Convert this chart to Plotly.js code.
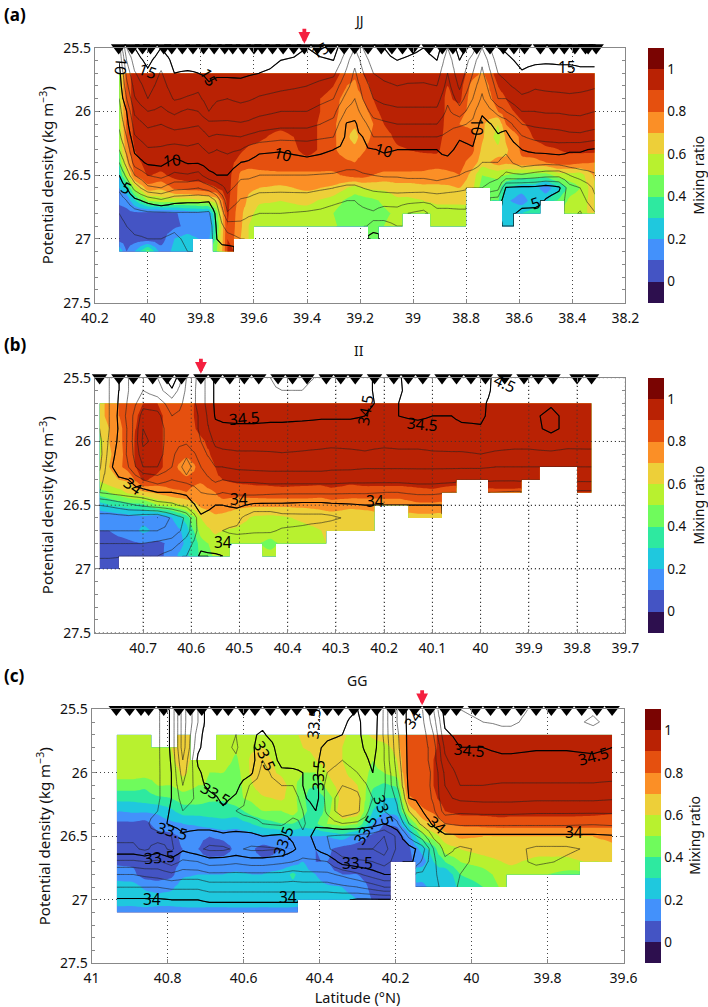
<!DOCTYPE html>
<html><head><meta charset="utf-8">
<script src="https://cdn.plot.ly/plotly-3.0.1.min.js"></script>
<style>html,body{margin:0;padding:0;background:#fff}</style></head>
<body><div id="chart" style="width:708px;height:1007px"></div>
<script>
const N = null;
const bandColors = ['#2d0f4e','#4454c4','#4391fb','#1fc8de','#2ee9a0','#6ffb5c','#b8f12f','#edcf39','#fb8f26','#e5500f','#b92204','#7a0402'];
const mixSigma = [25.7,25.8,25.9,26,26.1,26.2,26.3,26.4,26.5,26.6,26.7,26.8,26.9,27,27.1];
const isoSigma = [25.5,25.6].concat(mixSigma);
const ticksY = [25.5,26,26.5,27,27.5];

/* ---------- panel a : JJ ---------- */
const latA = [40.108,40.08,40.05,40,39.95,39.9,39.85,39.81,39.77,39.74,39.7,39.65,39.62,39.58,39.5,39.4,39.3,39.25,39.22,39.19,39.15,39.11,39.06,39.02,38.96,38.91,38.87,38.825,38.775,38.74,38.68,38.65,38.59,38.54,38.5,38.45,38.41,38.37,38.315];
const mixA = [
[.55,.55,.55,.55,.55,.52,.5,.42,.3,.2,.12,.06,.05,.05,.3],
[.85,.85,.85,.82,.82,.8,.75,.68,.55,.28,.13,.08,.06,.05,.1],
[.94,.94,.94,.94,.93,.93,.9,.86,.8,.55,.28,.08,.06,.05,.2],
[.95,.95,.95,.95,.95,.95,.95,.94,.91,.75,.5,.06,.05,.04,.45],
[.95,.95,.95,.95,.95,.95,.95,.95,.88,.72,.55,.06,.05,.05,.15],
[.95,.95,.95,.95,.95,.95,.95,.95,.93,.82,.55,.09,.08,.2,.22],
[.95,.95,.95,.95,.95,.95,.95,.95,.95,.85,.55,.13,.12,.25,.25],
[.95,.95,.95,.95,.95,.95,.95,.95,.95,.85,.58,.14,.1,.2],
[.95,.95,.95,.95,.95,.95,.95,.95,.95,.88,.6,.15,.12,.18],
[.95,.95,.95,.95,.95,.95,.95,.95,.95,.9,.65,.45,.4,.45,.5],
[.95,.95,.95,.95,.95,.95,.95,.95,.95,.95,.93,.92,.9,.9,.9],
[.95,.95,.95,.95,.95,.95,.92,.85,.78,.75,.75,.72,.72,.7],
[.95,.95,.95,.95,.95,.95,.88,.85,.75,.72,.68,.65,.6,.6],
[.95,.95,.95,.95,.95,.93,.85,.83,.78,.7,.62,.55,.55],
[.95,.95,.95,.95,.95,.85,.8,.85,.78,.68,.6,.55,.52],
[.95,.95,.95,.95,.95,.95,.95,.85,.78,.72,.63,.55,.53],
[.95,.9,.85,.85,.82,.82,.82,.85,.78,.68,.55,.5,.52],
[.85,.8,.75,.72,.72,.72,.73,.82,.82,.6,.48,.45,.45],
[.82,.78,.75,.73,.72,.66,.73,.8,.85,.55,.45,.42,.42],
[.9,.85,.8,.75,.75,.75,.78,.85,.85,.6,.45,.45,.48],
[.95,.93,.9,.85,.8,.82,.85,.85,.8,.62,.48,.48,.42,.4],
[.95,.95,.95,.95,.9,.85,.85,.85,.78,.62,.52,.48,.5],
[.95,.95,.95,.95,.95,.93,.88,.85,.78,.65,.58,.52,.52],
[.95,.95,.95,.95,.95,.95,.9,.85,.78,.65,.58,.55],
[.95,.95,.95,.95,.95,.95,.92,.84,.78,.67,.6,.52],
[.95,.95,.95,.95,.95,.95,.92,.85,.75,.68,.62,.55,.53],
[.9,.9,.88,.88,.87,.85,.85,.85,.77,.68,.62,.55,.53],
[.95,.95,.93,.85,.8,.85,.85,.84,.8,.7,.62,.55,.53],
[.85,.75,.72,.75,.78,.82,.82,.75,.65,.62],
[.78,.72,.72,.72,.72,.72,.68,.65,.5,.45],
[.95,.9,.85,.8,.6,.55,.63,.75,.52,.45,.42],
[.95,.95,.9,.85,.8,.72,.68,.72,.5,.3,.22,.25,.3],
[.95,.95,.95,.95,.88,.82,.82,.78,.45,.24,.15,.3],
[.95,.95,.95,.95,.95,.92,.84,.78,.45,.24,.26,.35],
[.95,.95,.95,.95,.95,.95,.88,.8,.45,.14,.28],
[.95,.95,.95,.95,.95,.95,.9,.85,.55,.28,.42],
[.95,.95,.95,.95,.95,.95,.92,.85,.55,.45,.52,.55],
[.95,.95,.95,.95,.95,.95,.93,.82,.55,.5,.55,.58],
[.95,.95,.95,.95,.95,.95,.93,.8,.72,.68,.65,.62]];
const tempA = [
[10.5,10.1,9.6,9.3,9,8.6,8.2,7.7,7,6,5,4.2,3.5,3,2.7,2.5,2.4],
[14,13,12.3,11.7,11,10,9.6,9,8.3,7.5,6.3,5,4,3.3,3,2.7,2.5],
[15,14.5,13.9,13.4,12.9,12.2,11.5,10.9,10.2,9.5,8,6.3,4.7,3.6,3.2,2.9,2.7],
[16,15.3,14.8,14.4,14,13,12.2,11.5,10.9,10.2,9,7.8,5.3,3.8,3.2,3,2.9],
[15,14.4,13.9,13.6,13.3,12.8,12,11.3,10.9,10.3,9.3,8,5.8,3.8,3.2,3,2.9],
[15.7,15.3,15,14.5,14.1,13.2,12.4,11.5,10.6,9.7,8.8,7.3,5.3,3.9,3.1,2.9,2.8],
[16,15.4,14.9,14.4,13.9,12.8,12.2,11.5,10.8,10.1,8.9,7.2,5.2,3.9,3.3,3.1,3],
[16,15.3,15,14.2,13.8,13,12.1,11.3,10.7,10.1,8.6,7,5.2,3.9,3.3,3.1],
[16,15.7,15.2,14.9,14.4,14,12.7,12,11.2,10.5,9.7,7.5,5.1,3.8,3.2,3.1],
[16,15.8,15.1,14.8,14.1,13.6,12.8,11.8,11,10.5,10,8.2,6.2,5.4,5.2,5,4.9],
[16,15.8,15.2,14.6,14,13.5,12.8,11.9,11.2,10.6,10,9.3,8.6,7.9,6.5,5.5,4.5],
[16,15.8,15.2,14.7,14.2,13.6,12.9,12,11,10,9.2,8.6,7.9,7.3,6.8,6],
[16,15.7,15.1,14.6,14.1,13.5,12.8,11.8,10.6,9.9,9.2,8.5,7.8,7.1,6.7,6.3],
[16,15.6,15,14.4,13.9,13.3,12.5,11.6,10.2,9.6,9,8.3,7.5,7,6.6],
[15.6,15,14.7,14.2,13.7,13,12.3,11.3,10.1,9.5,9,8.2,7.6,7,6.7],
[15,14.8,14.5,14,13.6,13,12.3,11.3,10.4,9.7,9,8.3,7.5,6.9,6.6],
[15.5,15,14.2,13.5,13,12.3,11.7,11,10,9.6,8.9,8,7.1,6.8,6.5],
[14,13.3,12.8,12.3,11.6,10.8,9.9,9.8,9.7,9.4,8.7,7.8,7,6.7,6.5],
[13,12.3,11.8,11.5,11,10.5,9.8,9.8,9.7,9.4,8.7,7.8,7,6.7,6.5],
[14,13.4,12.9,12.3,12,11.4,10.6,10,9.9,9.5,8.9,8,7.2,6.8,6.5],
[15,14.5,14,13.5,13,12.4,11.6,11,9.95,9.7,9,8.2,7.4,6.9,5.3,4.7],
[15,14.7,14.3,13.8,13.3,12.6,11.8,11,10.1,9.7,9.1,8.3,7.4,6.5,5.6],
[15.6,15,14.5,14,13.4,12.8,12,11,10,9.7,9.1,8.4,7.4,6.6,6],
[15.4,14.8,14.4,13.9,13.4,12.8,12,11,10,9.7,9.2,8.4,7.3,6],
[15,14.6,14.3,13.9,13.4,12.8,12,11,10,9.7,9.2,8.4,7.2,5.6],
[15.5,15,14.5,14,13.4,12.8,12,11,10,9.8,9.3,8.6,7.3,6.8,6.5],
[14,13.4,13,12.6,12.2,11.8,11.3,10.8,10.3,9.7,9.2,8.4,7.3,6.8,6.5],
[15.5,15,14.7,14.2,13.5,12.6,11.2,10.1,9.7,9.4,9,8.2,7.4,6.8,6.5],
[14.5,13.5,13,12.5,12,11.3,10.8,10.3,9.9,9.4,8.7,8],
[13,12.2,11.8,11.3,10.8,10.2,9.6,9.3,9.1,9,8.6,8],
[15,14.5,14,13.5,13,11.3,10.3,9.9,9.5,9,8.3,7.3,5.5],
[15.2,14.7,14.3,13.8,13,12,10.3,9.7,9.2,8.6,7.8,4.9,4.4,4.4,4.9],
[15.7,15.3,14.9,14.4,13.8,13,12,10.9,10,9.6,7.9,4.7,4.4,5.4],
[16,15.2,14.6,14.1,13.7,13,12.2,11.3,10.2,9.4,7.6,4.7,4.4,5.5],
[16,15.1,14.7,14.2,13.7,13.1,12.3,11.4,10.3,9.3,7.4,4.4,5.1],
[16,15.1,14.8,14.3,13.7,13.1,12.4,11.5,10.4,9.4,7.3,4.8,5.6],
[16,15.1,14.8,14.3,13.8,13.2,12.5,11.7,10.1,9.6,8,6.6,6.4,6.3],
[16,15.1,14.9,14.3,13.7,13.2,12.6,11.7,10.1,9.6,8.5,7,6.4,5.9],
[15.9,15.1,14.9,14.1,13.6,13,12.4,11.4,9.9,9.5,8.9,8.2,7.8,6.9]];
const stationsA = [40.11,40.06,40.02,39.99,39.94,39.91,39.87,39.83,39.79,39.75,39.71,39.68,39.64,39.6,39.57,39.53,39.49,39.45,39.41,39.36,39.31,39.26,39.22,39.17,39.12,39.08,39.04,39,38.94,38.89,38.85,38.81,38.76,38.71,38.66,38.62,38.58,38.52,38.47,38.43,38.39,38.35,38.34,38.31];
const textA = ['10','15','15','15','15','10','10','10','10','5','5'];
const labLatA = [40.1,40,39.77,39.35,38.42,39.91,39.49,39.11,38.76,40.08,38.54];
const labSigA = [25.65,25.68,25.73,25.52,25.65,26.38,26.33,26.3,26.12,26.6,26.72];
const labAngA = [95,20,60,-30,0,-5,15,15,90,30,-20];

/* ---------- panel b : II ---------- */
const latB = [40.79,40.77,40.73,40.7,40.67,40.64,40.61,40.58,40.55,40.535,40.505,40.47,40.436,40.412,40.37,40.33,40.31,40.27,40.24,40.2,40.17,40.13,40.1,40.06,40.04,40,39.97,39.93,39.9,39.854,39.82,39.78,39.77];
const mixB = [
[.65,.65,.63,.55,.58,.62,.62,.45,.25,.13,.1,.06,.05,.05],
[.75,.75,.7,.7,.68,.7,.68,.5,.3,.12,.1,.06,.05,.05],
[.85,.85,.85,.85,.85,.85,.72,.62,.35,.15,.15,.08,.05],
[.9,.93,.95,.97,.97,.95,.92,.68,.38,.17,.22,.1,.06],
[.9,.93,.93,.93,.93,.93,.87,.72,.5,.12,.18,.08,.06],
[.85,.85,.85,.85,.85,.85,.85,.78,.55,.2,.12,.12,.15],
[.85,.85,.85,.85,.83,.72,.83,.8,.62,.35,.25,.22,.28],
[.95,.95,.93,.88,.85,.85,.82,.75,.72,.6,.55,.45,.42],
[.95,.95,.95,.95,.93,.9,.88,.8,.75,.68,.62,.55,.52],
[.95,.95,.95,.95,.95,.95,.9,.85,.75,.67,.6,.53,.52],
[.95,.95,.95,.95,.95,.95,.92,.85,.72,.65,.58,.52],
[.95,.95,.95,.95,.95,.95,.93,.86,.72,.58,.55,.52],
[.95,.95,.95,.95,.95,.95,.93,.87,.72,.57,.55,.47,.53],
[.95,.95,.95,.95,.95,.95,.94,.87,.72,.58,.54,.52],
[.95,.95,.95,.95,.95,.95,.93,.87,.72,.62,.56,.53],
[.95,.95,.95,.95,.95,.95,.94,.85,.73,.65,.6,.6],
[.95,.95,.95,.95,.95,.95,.95,.87,.75,.65,.62],
[.95,.95,.95,.95,.95,.95,.92,.87,.72,.65,.65],
[.95,.95,.95,.95,.95,.95,.93,.87,.72,.67,.65],
[.95,.95,.95,.95,.95,.95,.95,.85,.75],
[.95,.95,.95,.95,.95,.95,.95,.85,.75],
[.95,.95,.95,.95,.95,.95,.95,.87,.78,.66],
[.95,.95,.95,.95,.95,.95,.95,.88,.78,.66],
[.95,.95,.95,.95,.95,.95,.95,.85],
[.95,.95,.95,.95,.95,.95,.95],
[.95,.95,.95,.95,.95,.95,.95],
[.95,.95,.95,.95,.95,.95,.95,.88],
[.95,.95,.95,.95,.95,.95,.95,.88],
[.95,.95,.95,.95,.95,.95,.95],
[.95,.95,.95,.95,.95,.95],
[.95,.95,.95,.95,.95,.95],
[.95,.95,.95,.95,.95,.95,.95,.92],
[.95,.95,.95,.95,.95,.95,.95,.92]];
const salB = [
[33.85,33.85,33.85,33.83,33.8,33.77,33.75,33.78,33.85,33.9,33.7,33.55,33.6,33.7,33.78,33.9],
[33.9,33.9,33.9,33.9,33.9,33.92,33.95,33.98,33.98,33.92,33.72,33.54,33.6,33.7,33.78,33.9],
[34.1,34.1,34.12,34.14,34.12,34.12,34.12,34.1,34,33.95,33.78,33.56,33.6,33.7,33.8],
[34.15,34.2,34.27,34.34,34.4,34.42,34.37,34.3,34.1,33.96,33.82,33.52,33.6,33.7,33.8],
[34.1,34.15,34.25,34.33,34.37,34.37,34.35,34.3,34.15,34,33.86,33.5,33.6,33.72,33.8],
[33.9,34.02,34.15,34.2,34.22,34.22,34.22,34.2,34.1,34,33.88,33.62,33.63,33.75,33.85],
[34.2,34.22,34.22,34.22,34.22,34.22,34.12,34.05,34.13,34.02,33.93,33.72,33.75,33.85,33.9],
[34.35,34.35,34.35,34.32,34.32,34.3,34.25,34.2,34.15,34.1,34.05,33.98,33.96,33.97,34.02],
[34.52,34.52,34.52,34.51,34.47,34.42,34.37,34.3,34.22,34.12,34,33.95,33.92,33.92,34.02],
[34.6,34.6,34.58,34.52,34.48,34.43,34.38,34.3,34.2,34.1,34,33.93,33.9,33.93,34],
[34.6,34.6,34.58,34.53,34.48,34.43,34.39,34.32,34.22,34.12,34.02,33.93,33.88,33.95],
[34.6,34.59,34.58,34.53,34.48,34.43,34.39,34.33,34.22,34.13,33.98,33.82,33.89,33.95],
[34.6,34.59,34.57,34.52,34.48,34.44,34.39,34.33,34.24,34.12,33.98,33.82,33.89,33.96,34],
[34.63,34.6,34.57,34.52,34.48,34.44,34.395,34.33,34.24,34.115,33.98,33.86,33.91,33.97],
[34.63,34.6,34.57,34.52,34.47,34.43,34.39,34.33,34.24,34.115,33.97,33.87,33.92,33.97],
[34.58,34.56,34.55,34.51,34.47,34.43,34.38,34.33,34.24,34.115,33.97,33.87,33.95,33.98],
[34.58,34.56,34.55,34.51,34.47,34.43,34.37,34.32,34.24,34.115,33.98,33.88,33.97],
[34.56,34.55,34.54,34.51,34.47,34.43,34.38,34.32,34.23,34.11,33.99,33.92,33.97],
[34.52,34.52,34.52,34.5,34.47,34.43,34.39,34.31,34.23,34.11,34,33.96,33.98],
[34.47,34.47,34.48,34.49,34.48,34.43,34.37,34.31,34.23,34.1,34],
[34.49,34.49,34.5,34.5,34.48,34.43,34.38,34.31,34.23,34.1,34],
[34.56,34.54,34.53,34.51,34.48,34.43,34.38,34.31,34.24,34.12,34,33.96],
[34.56,34.54,34.53,34.5,34.48,34.43,34.39,34.31,34.24,34.12,34,33.96],
[34.58,34.56,34.54,34.5,34.47,34.44,34.39,34.31,34.23,34.1],
[34.58,34.56,34.55,34.52,34.48,34.44,34.39,34.31,34.22],
[34.55,34.54,34.52,34.52,34.49,34.44,34.4,34.31,34.22],
[34.48,34.48,34.47,34.46,34.45,34.43,34.39,34.3,34.21,34.1],
[34.47,34.47,34.47,34.47,34.47,34.43,34.38,34.3,34.21,34.09],
[34.47,34.48,34.48,34.48,34.47,34.43,34.38,34.3,34.22],
[34.47,34.48,34.49,34.52,34.52,34.46,34.38,34.3],
[34.46,34.47,34.48,34.48,34.48,34.44,34.37,34.3],
[34.46,34.47,34.48,34.48,34.47,34.43,34.38,34.3,34.22,34.08],
[34.46,34.47,34.48,34.48,34.47,34.43,34.38,34.3,34.22,34.08]];
const stationsB = [40.79,40.75,40.72,40.68,40.65,40.62,40.58,40.55,40.52,40.49,40.46,40.42,40.39,40.36,40.32,40.29,40.26,40.22,40.18,40.15,40.12,40.08,40.05,40.02,39.99,39.95,39.91,39.88,39.85,39.8,39.77];
const textB = ['34.5','34.5','34.5','4.5','34','34','34','34'];
const labLatB = [40.49,40.24,40.12,39.95,40.72,40.5,40.22,40.535];
const labSigB = [25.82,25.75,25.86,25.54,26.35,26.45,26.47,26.79];
const labAngB = [-5,-80,5,25,35,0,0,0];

/* ---------- panel c : GG ---------- */
const latC = [40.934,40.89,40.86,40.826,40.79,40.76,40.72,40.69,40.654,40.62,40.58,40.55,40.5,40.47,40.444,40.41,40.38,40.34,40.3,40.26,40.23,40.196,40.165,40.129,40.1,40.07,40.03,39.97,39.92,39.896,39.83,39.75,39.68,39.63];
const mixC = [
[.55,.55,.55,.55,.45,.33,.2,.08,.06,.05,.08,.15,.25,.25,.15],
[.55,.55,.55,.55,.45,.33,.22,.08,.05,.05,.08,.12,.25,.25,.15],
[.55,.55,.55,.55,.42,.35,.22,.06,.05,.05,.05,.05,.18,.27,.15],
[N,.55,.55,.55,.5,.38,.22,.15,.06,.05,.05,.05,.15,.25,.15],
[N,.6,.58,.55,.5,.4,.28,.18,.07,.05,.05,.07,.18,.25,.15],
[.65,.65,.65,.62,.55,.45,.35,.2,.12,.1,.12,.18,.25,.27,.15],
[N,N,.55,.55,.5,.45,.35,.22,.12,.1,.13,.2,.26,.28,.15],
[N,N,.55,.5,.5,.42,.35,.25,.1,.05,.13,.2,.25,.27,.15],
[.55,.55,.55,.5,.48,.42,.33,.28,.12,.06,.13,.2,.25,.27,.15],
[.55,.52,.48,.45,.45,.48,.35,.25,.13,.12,.13,.22,.26,.28,.15],
[.58,.58,.62,.62,.58,.52,.45,.3,.15,.12,.12,.2,.25,.28,.15],
[.6,.6,.65,.65,.68,.58,.5,.35,.18,.06,.12,.2,.25,.27,.15],
[.55,.55,.55,.58,.65,.62,.5,.4,.2,.1,.12,.25,.25,.28,.15],
[.55,.55,.55,.55,.55,.55,.55,.4,.2,.1,.15,.32,.27,.27,.15],
[.65,.6,.55,.5,.42,.42,.45,.35,.2,.15,.2,.25,.27,.27],
[.65,.62,.6,.5,.4,.32,.3,.38,.2,.1,.1,.2,.25,.25],
[.68,.68,.65,.6,.55,.42,.45,.5,.2,.12,.1,.12,.22,.25],
[.62,.6,.6,.62,.65,.65,.68,.55,.25,.06,.05,.1,.2,.25],
[.55,.55,.55,.55,.6,.66,.66,.5,.15,.05,.05,.1,.14,.2],
[.62,.55,.5,.48,.42,.35,.3,.2,.08,.05,.05,.07,.08,.09],
[.68,.55,.55,.5,.38,.3,.22,.1,.05,.05,.06,.06,.05,.05],
[.68,.65,.6,.55,.42,.3,.25,.12,.05,.05,.05],
[.85,.85,.85,.85,.85,.78,.62,.35,.15,.08,.08],
[.85,.85,.85,.85,.85,.85,.78,.65,.45,.25,.15,.28,.15],
[.88,.88,.9,.9,.9,.88,.82,.72,.55,.35,.3,.28,.28],
[.95,.95,.95,.95,.95,.94,.9,.8,.65,.55,.4,.2,.2],
[.95,.95,.95,.95,.95,.95,.94,.82,.72,.6,.5,.4,.33],
[.95,.95,.95,.95,.95,.95,.94,.84,.7,.65,.55,.45,.4],
[.95,.95,.95,.95,.95,.95,.95,.85,.7,.67,.6,.55,.52],
[.95,.95,.95,.95,.95,.95,.94,.85,.7,.67,.62,.55],
[.95,.95,.95,.95,.95,.95,.94,.85,.7,.65,.57,.52],
[.95,.95,.95,.95,.95,.95,.94,.85,.7,.65,.57,.47],
[.95,.95,.95,.95,.95,.95,.93,.85,.7,.66,.62],
[.95,.95,.95,.95,.95,.95,.92,.84,.72,.68,.66]];
const salC = [
[33.32,33.32,33.32,33.32,33.32,33.33,33.33,33.34,33.35,33.36,33.38,33.42,33.62,33.8,33.9,34.01,34.08],
[33.33,33.33,33.33,33.33,33.33,33.33,33.33,33.34,33.35,33.36,33.38,33.42,33.62,33.8,33.9,34.01,34.08],
[33.34,33.34,33.34,33.34,33.34,33.34,33.34,33.35,33.36,33.37,33.39,33.38,33.6,33.78,33.9,34.01,34.08],
[33.38,33.38,33.38,33.38,33.38,33.38,33.38,33.38,33.4,33.46,33.36,33.44,33.62,33.76,33.9,34.01,34.08],
[33.52,33.52,33.52,33.52,33.51,33.5,33.5,33.5,33.52,33.52,33.4,33.38,33.55,33.72,33.88,34,34.08],
[33.85,33.85,33.85,33.85,33.8,33.75,33.7,33.65,33.6,33.55,33.48,33.48,33.62,33.75,33.88,34,34.08],
[33.6,33.6,33.55,33.52,33.48,33.52,33.55,33.58,33.55,33.55,33.45,33.42,33.6,33.75,33.88,34,34.08],
[33.42,33.42,33.42,33.44,33.44,33.45,33.46,33.55,33.55,33.55,33.45,33.38,33.55,33.72,33.85,33.98,34.08],
[33.42,33.42,33.42,33.42,33.42,33.43,33.45,33.47,33.52,33.56,33.48,33.38,33.56,33.72,33.85,33.98,34.08],
[33.42,33.42,33.4,33.39,33.41,33.42,33.46,33.52,33.6,33.58,33.45,33.42,33.58,33.72,33.85,33.98,34.08],
[33.48,33.49,33.49,33.47,33.45,33.48,33.62,33.65,33.62,33.58,33.47,33.38,33.55,33.72,33.85,33.98,34.08],
[33.47,33.48,33.51,33.58,33.6,33.65,33.65,33.65,33.62,33.6,33.5,33.38,33.55,33.72,33.85,33.98,34.08],
[33.42,33.44,33.45,33.45,33.47,33.52,33.6,33.68,33.68,33.62,33.48,33.4,33.58,33.72,33.85,33.98,34.08],
[33.42,33.42,33.42,33.44,33.46,33.52,33.6,33.7,33.65,33.56,33.52,33.48,33.6,33.74,33.85,33.98,34.08],
[33.42,33.42,33.42,33.44,33.47,33.5,33.5,33.52,33.6,33.62,33.58,33.55,33.62,33.72,33.85,33.98],
[33.45,33.45,33.45,33.48,33.48,33.48,33.45,33.45,33.5,33.52,33.45,33.5,33.62,33.72,33.85,33.98],
[33.47,33.48,33.48,33.52,33.55,33.6,33.65,33.65,33.62,33.55,33.4,33.42,33.6,33.72,33.85,33.98],
[33.48,33.49,33.5,33.54,33.6,33.65,33.7,33.75,33.78,33.6,33.38,33.32,33.45,33.68,33.82,33.99],
[33.5,33.52,33.52,33.53,33.55,33.6,33.68,33.72,33.72,33.58,33.38,33.3,33.42,33.62,33.8,34.01],
[33.4,33.42,33.43,33.45,33.48,33.5,33.55,33.6,33.55,33.55,33.35,33.3,33.4,33.55,33.75,34.01],
[33.62,33.62,33.62,33.6,33.6,33.58,33.58,33.6,33.6,33.5,33.3,33.25,33.35,33.5,33.7,34.01],
[33.9,33.9,33.88,33.87,33.85,33.82,33.8,33.72,33.68,33.58,33.42,33.42,33.45],
[34.03,34.03,34.03,34.03,34.03,34.03,34.02,34,33.9,33.8,33.62,33.45,33.45],
[34.1,34.08,34.05,34.05,34.05,34.05,34.06,34.02,34,33.93,33.75,33.55,33.62,33.72,33.8],
[34.3,34.25,34.2,34.15,34.15,34.12,34.12,34.12,34.08,34.02,33.92,33.8,33.78,33.78,33.78],
[34.55,34.52,34.48,34.42,34.38,34.32,34.3,34.28,34.25,34.1,33.98,33.93,33.88,33.85,33.82],
[34.6,34.58,34.53,34.5,34.48,34.44,34.4,34.32,34.22,34.12,33.98,33.88,33.88,33.9,33.92],
[34.62,34.6,34.54,34.5,34.47,34.44,34.4,34.33,34.23,34.12,33.98,33.92,33.93,33.95,33.96],
[34.62,34.61,34.58,34.52,34.48,34.44,34.39,34.33,34.23,34.12,33.98,33.94,33.96,33.97,33.98],
[34.62,34.61,34.58,34.52,34.48,34.44,34.39,34.33,34.23,34.12,33.98,33.93,33.96,33.98],
[34.59,34.58,34.57,34.51,34.47,34.44,34.39,34.32,34.22,34.12,33.98,33.88,33.87,33.98],
[34.56,34.56,34.55,34.51,34.47,34.44,34.39,34.32,34.22,34.12,33.98,33.88,33.92,34],
[34.58,34.62,34.55,34.52,34.48,34.44,34.39,34.32,34.22,34.11,33.98,33.92,33.95],
[34.56,34.56,34.55,34.5,34.47,34.44,34.38,34.31,34.22,34.12,33.99,33.96,33.97]];
const stationsC = [40.935,40.9,40.87,40.85,40.81,40.77,40.74,40.71,40.67,40.64,40.6,40.57,40.53,40.49,40.46,40.42,40.38,40.35,40.31,40.28,40.25,40.21,40.18,40.15,40.11,40.07,40.04,39.99,39.95,39.91,39.87,39.83,39.79,39.75,39.71,39.67,39.63];
const textC = ['33.5','34','33.5','33.5','34.5','34.5','33.5','33.5','33.5','33.5','33.5','33.5','33.5','34','34','34','34'];
const labLatC = [40.415,40.154,40.544,40.403,40.005,39.68,40.673,40.23,40.28,40.786,40.495,40.82,40.3,40.09,39.73,40.84,40.483];
const labSigC = [25.61,25.58,25.87,26.02,25.82,25.87,26.17,26.29,26.45,26.46,26.54,26.66,26.71,26.41,26.47,26.99,26.98];
const labAngC = [-85,-55,65,-88,5,-15,30,70,-60,15,-70,-5,0,40,0,0,0];

const panels = [
 {id:'',  name:'JJ', letter:'(a)', lat:latA, mix:mixA, iso:tempA, thin:[1,20,1], thick:[5,15,5], st:stationsA, arrow:39.41, range:[40.2,38.2], ticks:[40.2,40,39.8,39.6,39.4,39.2,39,38.8,38.6,38.4,38.2], labels:['40.2','40','39.8','39.6','39.4','39.2','39','38.8','38.6','38.4','38.2'], tx:textA, tlat:labLatA, tsig:labSigA, tang:labAngA, px:[94.8,625.3], py:[47.7,302.7], cb:648, title:[359,20], letterY:15, mr:[697.5,175], gridOnTop:false},
 {id:'2', name:'II', letter:'(b)', lat:latB, mix:mixB, iso:salB, thin:[33,35,.1], thick:[33.5,34.5,.5], st:stationsB, arrow:40.58, range:[40.8,39.7], ticks:[40.7,40.6,40.5,40.4,40.3,40.2,40.1,40,39.9,39.8,39.7], labels:['40.7','40.6','40.5','40.4','40.3','40.2','40.1','40','39.9','39.8','39.7'], tx:textB, tlat:labLatB, tsig:labSigB, tang:labAngB, px:[94.8,625.3], py:[377.7,632.7], cb:648, title:[359,350], letterY:345, mr:[697.5,505], gridOnTop:true},
 {id:'3', name:'GG', letter:'(c)', lat:latC, mix:mixC, iso:salC, thin:[33,35,.1], thick:[33.5,34.5,.5], st:stationsC, arrow:40.13, range:[41,39.6], ticks:[41,40.8,40.6,40.4,40.2,40,39.8,39.6], labels:['41','40.8','40.6','40.4','40.2','40','39.8','39.6'], tx:textC, tlat:labLatC, tsig:labSigC, tang:labAngC, px:[91.6,623.5], py:[709.3,963.3], cb:645, title:[357,680], letterY:675, mr:[695,835.7], gridOnTop:false}
];

const W = 708, H = 1007, EPS = 0.0008, XEPS = 0.0004;
const FONT = '"Noto Sans", sans-serif';
const nc = bandColors.length;
const scale = bandColors.map((c,i)=>[i/(nc-1),c]);
const stepScale = [];
bandColors.forEach((c,i)=>{stepScale.push([i/nc,c]);stepScale.push([(i+1)/nc,c]);});

/* columns and rows get doubled edges a hair apart, so the no-data edges fall on
   the midpoints between stations and exactly on the density levels */
function grid(lat, cols, sig){
  const at=(c,j)=>{const v=cols[c][j]; return v===undefined?null:v;};
  const mean=(own,other,j)=>{const p=at(own,j),q=at(other,j); return p===null?null:(q===null?p:(p+q)/2);};
  const xs=[], src=[];
  lat.forEach((l,c)=>{
    xs.push(l); src.push(j=>at(c,j));
    if(c<lat.length-1){
      const m=(l+lat[c+1])/2;
      xs.push(m+XEPS); src.push(j=>mean(c,c+1,j));
      xs.push(m-XEPS); src.push(j=>mean(c+1,c,j));
    }
  });
  const y=[], z=[];
  sig.forEach((s,j)=>{
    const row=(f)=>src.map(f);
    if(j>0){ y.push(s-EPS); z.push(row(g=>g(j-1)===null?null:g(j))); }
    y.push(s); z.push(row(g=>g(j)));
    if(j<sig.length-1){ y.push(s+EPS); z.push(row(g=>g(j+1)===null?null:g(j))); }
  });
  return {x:xs,y,z};
}

const data=[], annotations=[], layout={width:W,height:H,margin:{l:0,r:0,t:0,b:0},paper_bgcolor:'#fff',plot_bgcolor:'#fff',showlegend:false,font:{family:FONT,size:14,color:'#111'}};

panels.forEach((p,i)=>{
  const xa='x'+p.id, ya='y'+p.id;
  const m=grid(p.lat,p.mix,mixSigma), s=grid(p.lat,p.iso,isoSigma);
  data.push({type:'heatmap',x:[100,101],y:[100],z:[[-.1,1.1]],xaxis:xa,yaxis:ya,zmin:-.1,zmax:1.1,zauto:false,colorscale:stepScale,hoverinfo:'skip',
    colorbar:{x:p.cb/W,xanchor:'left',xpad:0,ypad:0,y:1-(p.py[0]+p.py[1])/2/H,yanchor:'middle',len:(p.py[1]-p.py[0])/H,lenmode:'fraction',thickness:15.5,thicknessmode:'pixels',outlinewidth:0,ticks:'',tickvals:[0,.2,.4,.6,.8,1],ticktext:['0','0.2','0.4','0.6','0.8','1'],tickfont:{family:FONT,size:13.5,color:'#111'}}});
  data.push({type:'contour',x:m.x,y:m.y,z:m.z,xaxis:xa,yaxis:ya,colorscale:scale,autocontour:false,showscale:false,
    contours:{start:0,end:1,size:.1,coloring:'fill',showlines:false},line:{width:0},hoverinfo:'skip'});
  if(p.gridOnTop){
    const dotted={color:'#333',width:1,dash:'1px,3px'};
    p.ticks.forEach(t=>data.push({type:'scatter',mode:'lines',x:[t,t],y:[25.5,27.5],xaxis:xa,yaxis:ya,line:dotted,hoverinfo:'skip'}));
    ticksY.forEach(t=>data.push({type:'scatter',mode:'lines',x:p.range,y:[t,t],xaxis:xa,yaxis:ya,line:dotted,hoverinfo:'skip'}));
  }
  data.push({type:'contour',x:s.x,y:s.y,z:s.z,xaxis:xa,yaxis:ya,showscale:false,autocontour:false,
    contours:{start:p.thin[0],end:p.thin[1],size:p.thin[2],coloring:'none'},line:{color:'#222',width:.6,smoothing:0},hoverinfo:'skip'});
  data.push({type:'contour',x:s.x,y:s.y,z:s.z,xaxis:xa,yaxis:ya,showscale:false,autocontour:false,
    contours:{start:p.thick[0],end:p.thick[1],size:p.thick[2],coloring:'none'},line:{color:'#000',width:1.1,smoothing:0},hoverinfo:'skip'});
  data.push({type:'scatter',mode:'markers',x:p.st,y:p.st.map(()=>25.5),xaxis:xa,yaxis:ya,cliponaxis:false,hoverinfo:'skip',
    marker:{symbol:'triangle-down',size:13.5,color:'#000',line:{width:0}}});

  const axKey='xaxis'+p.id, ayKey='yaxis'+p.id;
  layout[axKey]={domain:[p.px[0]/W,p.px[1]/W],anchor:ya,range:p.range,tickmode:'array',tickvals:p.ticks,ticktext:p.labels,
    ticks:'inside',ticklen:4,tickcolor:'#888',mirror:'allticks',showline:true,linecolor:'#888',linewidth:1,showgrid:true,gridcolor:'#444',griddash:'1px,3px',gridwidth:1,zeroline:false,
    tickfont:{family:FONT,size:14,color:'#111'},tickangle:0,ticklabelstandoff:2};
  layout[ayKey]={domain:[1-p.py[1]/H,1-p.py[0]/H],anchor:xa,range:[27.5,25.5],tickmode:'array',tickvals:ticksY,ticktext:['25.5','26','26.5','27','27.5'],
    ticks:'inside',ticklen:4,tickcolor:'#888',mirror:'allticks',showline:true,linecolor:'#888',linewidth:1,showgrid:true,gridcolor:'#444',griddash:'1px,3px',gridwidth:1,zeroline:false,
    minor:{dtick:.1,tick0:25.5,ticks:'inside',ticklen:3,tickcolor:'#888',showgrid:false},
    tickfont:{family:FONT,size:14,color:'#111'},
    title:{text:'Potential density (kg m<sup>\u22123</sup>)',standoff:5,font:{family:FONT,size:15,color:'#111'}}};
  if(i===2) layout[axKey].title={text:'Latitude (°N)',standoff:6,font:{family:FONT,size:14.5,color:'#111'}};

  annotations.push({xref:'paper',yref:'paper',x:p.title[0]/W,y:1-p.title[1]/H,text:p.name,showarrow:false,font:{family:FONT,size:14,color:'#111'},xanchor:'center',yanchor:'middle'});
  annotations.push({xref:'paper',yref:'paper',x:2/W,y:1-p.letterY/H,text:'<b>'+p.letter+'</b>',showarrow:false,font:{family:FONT,size:17,color:'#000'},xanchor:'left',yanchor:'middle'});
  annotations.push({xref:'paper',yref:'paper',x:p.mr[0]/W,y:1-p.mr[1]/H,text:'Mixing ratio',textangle:-90,showarrow:false,font:{family:FONT,size:14,color:'#111'},xanchor:'center',yanchor:'middle'});
  annotations.push({xref:xa,yref:ya,x:p.arrow,y:25.5,text:' ',showarrow:true,ax:0,ay:-20,arrowcolor:'#f4203f',arrowwidth:3.8,arrowhead:2,arrowsize:.62,standoff:4,font:{size:1},borderpad:0});
  p.tx.forEach((t,k)=>annotations.push({xref:xa,yref:ya,x:p.tlat[k],y:p.tsig[k],text:t,textangle:p.tang[k],showarrow:false,font:{family:FONT,size:15.5,color:'#000'},xanchor:'center',yanchor:'middle'}));
});
layout.annotations=annotations;
Plotly.newPlot('chart',data,layout,{staticPlot:true,displayModeBar:false});
</script></body></html>
